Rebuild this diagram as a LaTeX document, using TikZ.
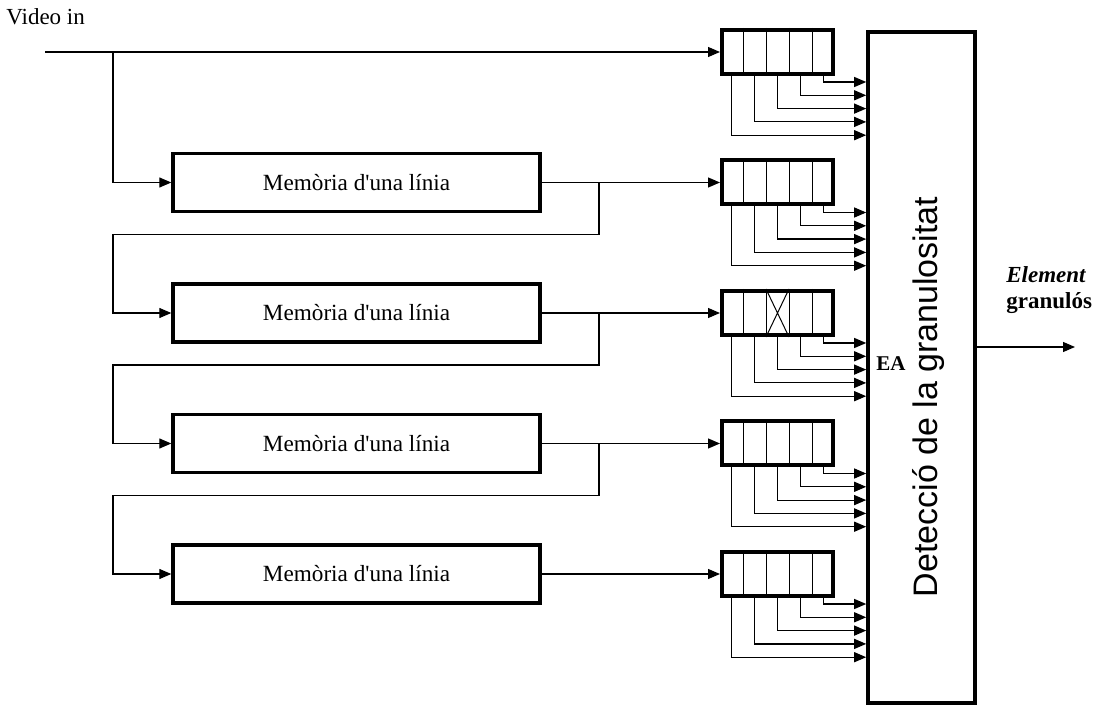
\documentclass[tikz,border=0pt]{standalone}
\usepackage{fontspec}
\setmainfont{Liberation Serif}
\newfontfamily\detfont{Liberation Sans}
\usetikzlibrary{arrows.meta,calc}

\begin{document}
\begin{tikzpicture}[x=0.5pt,y=-0.5pt,
  mem/.style={draw,line width=1.7pt,minimum width=183.5pt,minimum height=29pt,inner sep=0pt,font=\fontsize{11.6}{14}\selectfont},
  reg/.style={draw,line width=2pt,minimum width=55.5pt,minimum height=22pt,inner sep=0pt},
  det/.style={draw,line width=1.8pt,minimum width=53.5pt,minimum height=335.5pt,inner sep=0pt},
  arr/.style={-{Triangle[length=6pt,width=5pt]},line width=0.6pt},
  cell/.style={line width=0.5pt},
  note/.style={font=\fontsize{11.5}{13}\selectfont,inner sep=0pt}
]
\useasboundingbox (0,0) rectangle (1100,706);
% shift registers, five cells each
\foreach \r in {1,...,5}{
  \node[reg] (reg\r) at (777.5,{52+130.5*(\r-1)}) {};
  \foreach \i in {1,...,4}
    \draw[cell] ($(reg\r.north west)!\i/5!(reg\r.north east)$) -- ($(reg\r.south west)!\i/5!(reg\r.south east)$);
}
\draw[cell] ($(reg3.north west)!2/5!(reg3.north east)$) -- ($(reg3.south west)!3/5!(reg3.south east)$)
            ($(reg3.north west)!3/5!(reg3.north east)$) -- ($(reg3.south west)!2/5!(reg3.south east)$);
% line memories
\foreach \m in {1,...,4}
  \node[mem] (mem\m) at (356.5,{182.5+130.5*(\m-1)}) {Memòria d\textquotesingle una línia};
% detection block
\node[det] (det) at (921.5,367.5) {};
\node[rotate=90,font=\detfont\fontsize{17}{20}\selectfont] (detlabel) at (929,397) {Detecció de la granulositat};
\node[font=\bfseries\fontsize{10.5}{12}\selectfont] (ea) at (891,364) {EA};
% input
\node[note,anchor=west] (vin) at (6,17) {Video in};
\coordinate (in) at (45,52);
\coordinate (b0) at (113,52);
\draw[arr] (in) -- (reg1.west);
\draw[arr] (b0) |- (mem1.west);
% memory outputs and feed to next memory
\foreach \m [evaluate=\m as \n using int(\m+1)] in {1,...,4}
  \draw[arr] (mem\m.east) -- (reg\n.west);
\foreach \m [evaluate=\m as \n using int(\m+1)] in {1,2,3}{
  \coordinate (b\m) at (599,{182.5+130.5*(\m-1)});
  \coordinate (l\m) at (113,{182.5+130.5*(\m-1)+52});
  \draw[arr] (b\m) |- (l\m) |- (mem\n.west);
}
% cell taps into the detector
\foreach \r in {1,...,5}
  \foreach \c in {1,...,5}
    \draw[arr] ($(reg\r.south west)!{(\c-0.5)/5}!(reg\r.south east)$) |- ($(det.west |- reg\r.south)+(0,{6+13.3*(5-\c)})$);
% output
\coordinate (out) at (1075,347);
\draw[arr] (det.east |- out) -- (out);
\node[note,anchor=west,align=left] (outlabel) at (1006,290) {\textbf{\textit{Element}}\\\textbf{granulós}};
\end{tikzpicture}
\end{document}
